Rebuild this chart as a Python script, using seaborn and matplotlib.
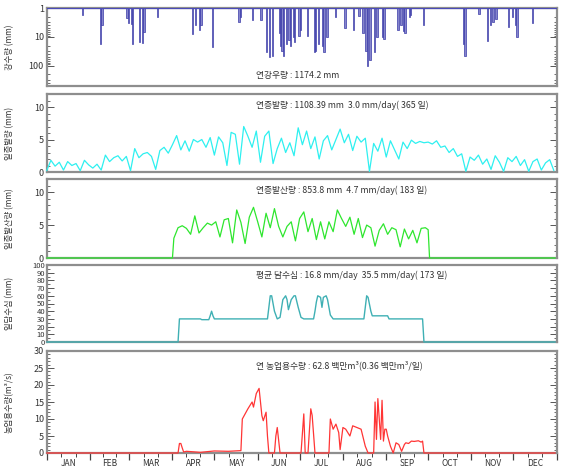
import numpy as np
import pandas as pd
import matplotlib
matplotlib.use("Agg")
import matplotlib.pyplot as plt
import matplotlib.transforms as mtransforms
import seaborn as sns
from matplotlib.ticker import FixedLocator, MultipleLocator, LogLocator, NullFormatter

# ---------------- data ----------------
months = ["JAN", "FEB", "MAR", "APR", "MAY", "JUN", "JUL", "AUG", "SEP", "OCT", "NOV", "DEC"]
month_start = [0, 31, 59, 90, 120, 151, 181, 212, 243, 273, 304, 334, 365]

# daily rainfall (day of year, mm)
rain_day = [25, 38, 39, 57, 58, 60, 61, 66, 68, 69, 79, 104, 106, 109, 110, 118, 137, 138,
            147, 153, 157, 159, 161, 166, 167, 168, 169, 171, 173, 174, 176, 177, 180, 181,
            186, 191, 192, 194, 197, 198, 200, 206, 213, 219, 223, 226, 228, 229, 231, 234,
            236, 240, 241, 251, 253, 255, 256, 259, 260, 269, 298, 299, 309, 315, 317, 319,
            321, 330, 333, 335, 336, 347]
rain_mm = [1.8, 17, 4, 2.2, 3.4, 3.5, 17, 15, 16, 6.8, 2, 7.8, 4, 6, 4, 22, 3, 2,
           2.6, 2.5, 34, 51, 47, 7.5, 20, 30, 47, 17, 13, 20, 10, 15, 9, 6,
           9, 34, 30, 17, 20, 34, 10, 2, 5, 6, 1.9, 7.5, 30, 100, 65, 34,
           10, 10, 11.6, 6, 4, 6.5, 7.5, 2, 1.8, 4, 17, 45, 1.6, 14, 4, 3,
           2.4, 4.4, 2, 4, 10, 3.4]

# daily pan evaporation (mm), every third day
evap_day = list(range(0, 366, 3))
evap_mm = [0.2, 1.8, 0.9, 1.5, 0.3, 1.6, 1.0, 1.3, 0.2, 1.8, 1.1,
           0.6, 1.2, 0.3, 2.6, 1.6, 2.2, 2.5, 1.7, 2.4,
           0.2, 3.6, 2.2, 2.8, 3.0, 2.4, 0.4, 3.3, 3.8, 2.9, 4.2,
           5.6, 3.4, 4.8, 3.2, 5.0, 4.6, 5.0, 3.8, 5.3, 2.6,
           5.4, 4.5, 1.0, 6.1, 5.8, 1.2, 7.0, 5.5, 3.8, 6.3,
           1.5, 5.5, 6.3, 1.3, 3.6, 5.2, 3.0, 4.5, 2.5, 6.8,
           4.2, 6.3, 3.6, 5.4, 2.0, 4.8, 5.6, 3.4, 5.0, 6.6,
           4.5, 5.8, 3.3, 5.5, 4.6, 5.2, 0.1, 4.4, 3.2, 5.2,
           2.3, 4.8, 3.4, 2.0, 4.6, 3.6, 4.9, 4.4, 4.7, 4.5,
           4.6, 4.3, 4.8, 3.8, 4.0, 3.0, 3.6, 2.4, 2.8, 0.1, 2.3,
           1.8, 2.6, 1.2, 2.0, 0.4, 2.5, 1.5, 0.1, 2.2, 1.6,
           2.4, 1.0, 1.9, 0.1, 1.6, 2.0, 0.3, 1.4, 1.9, 0.2]

# crop evapotranspiration (mm), growing season Apr 1 - Sep 30
et_day = [0, 90] + list(range(91, 272, 3)) + [273, 274, 364]
et_mm = [0, 0,
         3.0, 4.6, 4.9, 4.5, 3.6, 6.4, 3.8, 4.6, 5.3, 5.0, 5.5, 3.2, 5.8, 6.0, 2.3, 7.3,
         5.4, 2.2, 6.2, 7.7, 5.5, 3.2, 6.8, 4.6, 7.5, 4.8,
         3.2, 4.8, 5.5, 2.6, 6.0, 7.0, 4.0, 6.0, 2.8, 5.5, 2.9, 5.5, 4.0, 7.3, 6.0, 4.8,
         6.2, 3.6, 6.0, 3.1, 5.0, 4.6, 1.8, 4.2, 5.2, 3.6, 4.6, 4.3, 1.7, 4.4, 2.9, 4.2,
         2.3, 4.5, 4.6,
         4.3, 0, 0]

# paddy ponding depth (mm)
pond_day = [0, 94, 95, 110, 111, 116, 117, 118, 119, 120, 158, 159, 160, 161, 163, 165,
            167, 169, 171, 172, 173, 175, 177, 178, 180, 182, 184, 191, 192, 193, 194,
            196, 197, 198, 200, 201, 203, 205, 227, 228, 229, 230, 232, 233, 244, 245,
            269, 270, 364]
pond_mm = [0, 0, 30, 30, 29, 29, 34, 40, 34, 30, 30, 45, 60, 60, 40, 30,
           32, 55, 60, 55, 42, 55, 60, 60, 45, 32, 30, 30, 40, 52, 60,
           58, 45, 58, 60, 55, 35, 30, 30, 45, 60, 58, 40, 34, 34, 30,
           30, 0, 0]

# agricultural water demand (m3/s)
irr_day = [0, 94, 95, 96, 97, 98, 100, 110, 120, 130, 139, 140, 144, 147, 148, 150,
           152, 153, 154, 155, 157, 158, 159, 163, 164, 165, 167, 182, 184, 185, 187,
           189, 190, 192, 202, 203, 205, 207, 209, 210, 212, 214, 217, 219, 222, 225,
           228, 230, 234, 235, 236, 237, 239, 240, 241, 242, 243, 244, 246, 248, 250,
           252, 254, 256, 257, 259, 261, 263, 266, 268, 269, 270, 364]
irr_m3s = [0, 0, 2.8, 2.8, 1.5, 0.3, 0.5, 0.2, 0.6, 0.5, 0.7, 10, 13, 15, 13.5, 17.5,
           19, 15, 11, 9.5, 12, 5, 0, 0, 5, 7.5, 0, 0, 11.5, 0, 0,
           13, 11, 0, 0, 10, 7, 8.5, 6, 1, 7.5, 7, 5, 8, 7.5, 7,
           2, 0, 0, 15, 4, 16, 4, 15.5, 3.5, 7, 7, 5, 2, 0, 3,
           2.5, 0.5, 2.5, 3, 2.8, 3.5, 3.4, 3.6, 3.2, 3.5, 0, 0]

# ---------------- figure ----------------
sns.set_style("white")
plt.rcParams["font.family"] = ["Noto Sans CJK KR", "DejaVu Sans"]
plt.rcParams["axes.unicode_minus"] = False

fig = plt.figure(figsize=(5.61, 4.68), dpi=100)
H = 468.0
X0, XW = 46.7 / 561, 510 / 561


def panel(top, bottom):
    return fig.add_axes([X0, (H - bottom) / H, XW, (bottom - top) / H])


SPINE = "#8e8e8e"
TXT = "#333333"


def style(ax, ylabel):
    for s in ax.spines.values():
        s.set_color(SPINE)
        s.set_linewidth(1.6)
        s.set_zorder(1.5)
    ax.set_xlim(0, 365)
    ax.tick_params(axis="y", which="both", direction="in", left=True, right=True,
                   color="#555555", labelcolor=TXT, labelsize=6.5, pad=2)
    ax.tick_params(axis="y", which="major", length=5, width=0.7)
    ax.tick_params(axis="y", which="minor", length=2.5, width=0.6)
    ax.set_ylabel(ylabel, fontsize=6, color=TXT)
    ax.yaxis.set_label_coords(-0.064, 0.5)
    ax.set_xlabel("")


def no_x(ax):
    ax.set_xticks([])
    ax.tick_params(axis="x", which="both", bottom=False, top=False, labelbottom=False)


def title(ax, s, y=0.86):
    ax.text(0.41, y, s, transform=ax.transAxes,
            ha="left", va="center", fontsize=6.3, color=TXT)


def series(ax, x, y, color, lw=0.9):
    sns.lineplot(x=x, y=y, ax=ax, color=color, linewidth=lw,
                 estimator=None, sort=False, zorder=3, clip_on=False)


# --- rainfall (inverted log axis) ---
ax1 = panel(8, 86)
ax1.set_yscale("log")
ax1.bar(rain_day, np.array(rain_mm) - 1, bottom=1, width=1.0, align="edge",
        color="#8585cc", edgecolor="#3a3aa8", linewidth=0.5, zorder=3)
ax1.axhline(1, color="#4a4ab8", lw=1.6, zorder=4)
ax1.set_ylim(500, 1)
ax1.yaxis.set_major_locator(FixedLocator([1, 10, 100]))
ax1.set_yticklabels(["1", "10", "100"])
ax1.yaxis.set_minor_locator(LogLocator(base=10, subs=np.arange(2, 10)))
ax1.yaxis.set_minor_formatter(NullFormatter())
style(ax1, "강수량 (mm)")
no_x(ax1)
title(ax1, "연강우량 : 1174.2 mm", y=0.14)

# --- pan evaporation ---
ax2 = panel(94, 172)
series(ax2, evap_day, evap_mm, "#2ef0f0")
ax2.set_ylim(0, 12)
ax2.yaxis.set_major_locator(FixedLocator([0, 5, 10]))
ax2.yaxis.set_minor_locator(MultipleLocator(1))
style(ax2, "일증발량 (mm)")
no_x(ax2)
title(ax2, "연증발량 : 1108.39 mm  3.0 mm/day( 365 일)")

# --- evapotranspiration ---
ax3 = panel(179, 258)
series(ax3, et_day, et_mm, "#2ee62e")
ax3.set_ylim(0, 12)
ax3.yaxis.set_major_locator(FixedLocator([0, 5, 10]))
ax3.yaxis.set_minor_locator(MultipleLocator(1))
style(ax3, "일증발산량 (mm)")
no_x(ax3)
title(ax3, "연증발산량 : 853.8 mm  4.7 mm/day( 183 일)")

# --- ponding depth ---
ax4 = panel(265, 342)
series(ax4, pond_day, pond_mm, "#3fb0b4", lw=1.0)
ax4.set_ylim(0, 100)
ax4.yaxis.set_major_locator(MultipleLocator(10))
ax4.yaxis.set_minor_locator(MultipleLocator(5))
style(ax4, "일담수심 (mm)")
ax4.tick_params(axis="y", labelsize=5.5, pad=1)
no_x(ax4)
title(ax4, "평균 담수심 : 16.8 mm/day  35.5 mm/day( 173 일)")

# --- irrigation demand ---
ax5 = panel(351, 453)
series(ax5, irr_day, irr_m3s, "#ff3535")
ax5.set_ylim(0, 30)
ax5.yaxis.set_major_locator(MultipleLocator(5))
ax5.yaxis.set_minor_locator(MultipleLocator(1))
style(ax5, "농업용수량(m³/s)")
title(ax5, "연 농업용수량 : 62.8 백만m³(0.36 백만m³/일)")

minor_days = []
for a, b in zip(month_start[:-1], month_start[1:]):
    step = (b - a) / 3
    minor_days += [a + step, a + 2 * step]
ax5.xaxis.set_major_locator(FixedLocator(month_start))
ax5.xaxis.set_minor_locator(FixedLocator(minor_days))
ax5.tick_params(axis="x", which="both", direction="out", bottom=True, top=False,
                labelbottom=False, color="#444444")
ax5.tick_params(axis="x", which="major", length=5, width=0.9)
ax5.tick_params(axis="x", which="minor", length=3, width=0.7)

# month names sit just above the bottom edge of the figure
month_tr = mtransforms.blended_transform_factory(ax5.transData, fig.transFigure)
for name, a, b in zip(months, month_start[:-1], month_start[1:]):
    ax5.text((a + b) / 2, 0.5 / H, name, transform=month_tr,
             ha="center", va="bottom", fontsize=6, color=TXT)

fig.savefig("out.png", dpi=100)
